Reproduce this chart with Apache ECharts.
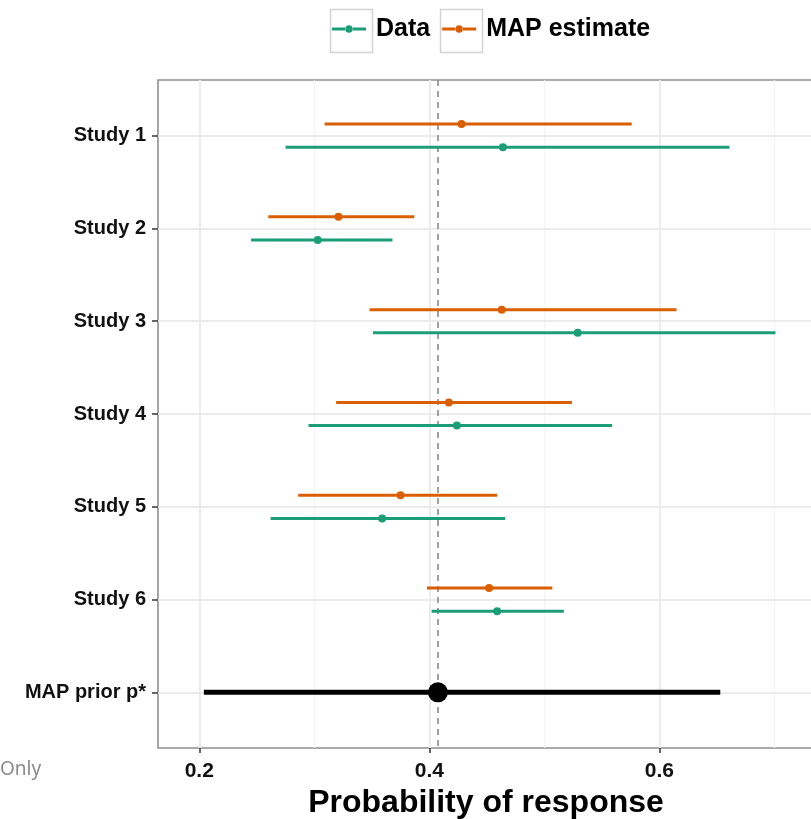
<!DOCTYPE html>
<html><head><meta charset="utf-8">
<script src="https://cdn.jsdelivr.net/npm/echarts@6/dist/echarts.min.js"></script>
<style>html,body{margin:0;padding:0;background:#fff}#c{width:811px;height:819px}</style>
</head><body><div id="c"></div>
<script>
const categories = ['Study 1','Study 2','Study 3','Study 4','Study 5','Study 6','MAP prior p*'];
const dataLow  = [0.275, 0.245, 0.351, 0.295, 0.262, 0.402];
const dataEst  = [0.464, 0.303, 0.529, 0.424, 0.359, 0.459];
const dataHigh = [0.661, 0.368, 0.701, 0.559, 0.466, 0.517];
const mapLow   = [0.309, 0.260, 0.348, 0.319, 0.286, 0.398];
const mapEst   = [0.428, 0.321, 0.463, 0.417, 0.375, 0.452];
const mapHigh  = [0.576, 0.387, 0.615, 0.524, 0.459, 0.507];
const priorLow  = [0.204];
const priorEst  = [0.4075];
const priorHigh = [0.653];
const xTicks = [0.2, 0.4, 0.6];
const xMinorTicks = [0.3, 0.5, 0.7];

const FONT = 'Liberation Sans, Arial, sans-serif';
const positions = categories.map((c, i) => i + 1);
const dodge = 0.125;

function makeRender(color, off, lw, r) {
  return function (params, api) {
    const pos = api.value(3) + off;
    const a = api.coord([api.value(0), pos]);
    const m = api.coord([api.value(1), pos]);
    const b = api.coord([api.value(2), pos]);
    return { type: 'group', children: [
      { type: 'line', shape: { x1: a[0], y1: a[1], x2: b[0], y2: b[1] }, style: { stroke: color, lineWidth: lw } },
      { type: 'circle', shape: { cx: m[0], cy: m[1], r: r }, style: { fill: color } }
    ]};
  };
}

const dataRows = dataLow.map((v, i) => [dataLow[i], dataEst[i], dataHigh[i], positions[i]]);
const mapRows = mapLow.map((v, i) => [mapLow[i], mapEst[i], mapHigh[i], positions[i]]);
const priorRows = priorLow.map((v, i) => [priorLow[i], priorEst[i], priorHigh[i], positions[6]]);

const keyIcon = 'path://M0,3.5H14.5V6.5H0Z M21.5,3.5H36V6.5H21.5Z M14,5A4,4,0,1,0,22,5A4,4,0,1,0,14,5Z';

const chart = echarts.init(document.getElementById('c'), null, { renderer: 'canvas' });
chart.setOption({
  animation: false,
  backgroundColor: '#fff',
  textStyle: { fontFamily: FONT },
  legend: {
    data: [{ name: 'Data', icon: keyIcon }, { name: 'MAP estimate', icon: keyIcon }],
    left: 332, top: 12, padding: 0,
    itemWidth: 34, itemHeight: 8, itemGap: 12,
    textStyle: { fontSize: 25, fontWeight: 'bold', color: '#000', fontFamily: FONT, padding: [6, 0, 0, 5], lineHeight: 28 }
  },
  graphic: [
    { type: 'rect', left: 328, top: 7, z: 0, shape: { width: 42, height: 43 }, style: { fill: 'none', stroke: '#d2d2d2', lineWidth: 1.5 } },
    { type: 'rect', left: 438, top: 7, z: 0, shape: { width: 42, height: 43 }, style: { fill: 'none', stroke: '#d2d2d2', lineWidth: 1.5 } },
    { type: 'text', left: 0, top: 760, style: { text: 'Only', fill: '#8a8a8a', fontSize: 19, fontFamily: 'Noto Sans, sans-serif' } }
  ],
  grid: { left: 158, top: 80, right: -3, bottom: 71, outerBoundsMode: 'none', containLabel: false, show: true, borderColor: '#8f8f8f', borderWidth: 1.6, backgroundColor: 'transparent' },
  xAxis: {
    type: 'value', min: 0.1641, max: 0.7345,
    name: 'Probability of response', nameLocation: 'middle', nameGap: 39,
    nameTextStyle: { fontSize: 32, fontWeight: 'bold', color: '#000', fontFamily: FONT },
    axisLine: { show: false },
    axisTick: { show: true, customValues: xTicks, length: 5, lineStyle: { color: '#333', width: 1.5 } },
    axisLabel: { customValues: xTicks, formatter: v => v.toFixed(1), fontSize: 21, fontWeight: 'bold', color: '#111', margin: 13, fontFamily: FONT },
    splitLine: { show: false }
  },
  yAxis: {
    type: 'value', min: 0.4, max: 7.6, inverse: true,
    axisLine: { show: false },
    axisTick: { show: true, customValues: positions, length: 6, lineStyle: { color: '#333', width: 1.5 } },
    axisLabel: { customValues: positions, formatter: v => categories[Math.round(v) - 1], fontSize: 20, fontWeight: 'bold', color: '#111', margin: 12, fontFamily: FONT },
    splitLine: { show: false }
  },
  series: [
    {
      type: 'line', name: 'grid', data: [], silent: true, z: 1,
      markLine: {
        silent: true, symbol: 'none', z: 1, precision: 6, label: { show: false }, animation: false,
        data: [
          ...xMinorTicks.map(v => ({ xAxis: v, lineStyle: { color: '#f4f4f4', width: 1.2, type: 'solid' } })),
          ...xTicks.map(v => ({ xAxis: v, lineStyle: { color: '#ebebeb', width: 2, type: 'solid' } })),
          ...positions.map(p => ({ yAxis: p, lineStyle: { color: '#ebebeb', width: 2, type: 'solid' } }))
        ]
      }
    },
    { type: 'custom', name: 'MAP estimate', z: 3, data: mapRows, encode: { x: [0, 1, 2], y: 3 }, itemStyle: { color: '#d95f02' }, renderItem: makeRender('#d95f02', -dodge, 3, 4) },
    { type: 'custom', name: 'Data', z: 3, data: dataRows, encode: { x: [0, 1, 2], y: 3 }, itemStyle: { color: '#1b9e77' }, renderItem: makeRender('#1b9e77', dodge, 3, 4) },
    { type: 'custom', name: 'MAP prior', z: 3, data: priorRows, encode: { x: [0, 1, 2], y: 3 }, itemStyle: { color: '#000' }, renderItem: makeRender('#000', 0, 5, 10),
      markLine: {
        silent: true, symbol: 'none', z: 2, precision: 6, label: { show: false }, animation: false,
        data: [{ xAxis: priorEst[0], lineStyle: { color: '#8a8a8a', width: 1.6, type: [6, 5] } }]
      }
    }
  ]
});
</script>
</body></html>
